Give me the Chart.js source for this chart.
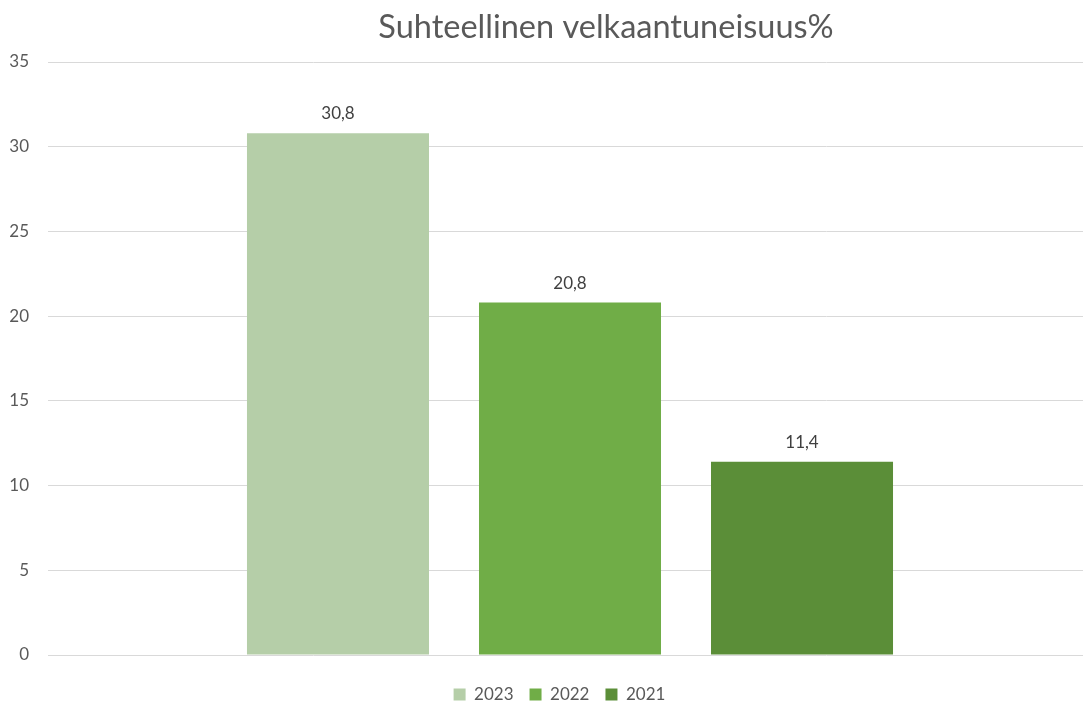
<!DOCTYPE html>
<html>
<head>
<meta charset="utf-8">
<script src="https://cdn.jsdelivr.net/npm/chart.js@4/dist/chart.umd.min.js"></script>
<style>
html,body{margin:0;padding:0;background:#fff;}
#wrap{width:1083px;height:707px;position:relative;}
</style>
</head>
<body>
<div id="wrap"><canvas id="c"></canvas></div>
<script>
const title = "Suhteellinen velkaantuneisuus%";
const categories = [""];
const seriesNames = ["2023", "2022", "2021"];
const values2023 = [30.8];
const values2022 = [20.8];
const values2021 = [11.4];
const yTicks = [0, 5, 10, 15, 20, 25, 30, 35];
const colors = ["#b5cea8", "#70ad47", "#5b8e38"];

const FONT = "Lato, 'Open Sans', sans-serif";
const fmt = v => String(v).replace('.', ',');

const labelPlugin = {
  id: 'valLabels',
  afterDatasetsDraw(chart) {
    const ctx = chart.ctx;
    ctx.save();
    ctx.font = "17px " + FONT;
    ctx.fillStyle = "#404040";
    ctx.textAlign = "center";
    ctx.textBaseline = "bottom";
    chart.data.datasets.forEach((ds, i) => {
      const meta = chart.getDatasetMeta(i);
      meta.data.forEach((el, j) => {
        ctx.fillText(fmt(ds.data[j]), el.x, el.y - 11);
      });
    });
    ctx.restore();
  }
};

const titlePlugin = {
  id: 'offsetTitle',
  afterDraw(chart) {
    const ctx = chart.ctx;
    ctx.save();
    ctx.font = "32.5px " + FONT;
    ctx.fillStyle = "#595959";
    ctx.textAlign = "center";
    ctx.textBaseline = "alphabetic";
    ctx.fillText(title, 606, 38);
    ctx.restore();
  }
};

const legendShift = {
  id: 'legendShift',
  afterLayout(chart) {
    if (chart.legend) { chart.legend.left += 18; chart.legend.right += 18; }
  }
};

new Chart(document.getElementById('c'), {
  type: 'bar',
  data: {
    labels: categories,
    datasets: [
      { label: seriesNames[0], data: values2023, backgroundColor: colors[0] },
      { label: seriesNames[1], data: values2022, backgroundColor: colors[1] },
      { label: seriesNames[2], data: values2021, backgroundColor: colors[2] }
    ]
  },
  options: {
    responsive: true,
    maintainAspectRatio: false,
    animation: false,
    datasets: { bar: { categoryPercentage: 0.6784, barPercentage: 0.7845 } },
    layout: { padding: { left: 0, right: 0, top: 62, bottom: -6 } },
    plugins: {
      title: { display: false },
      legend: {
        position: 'bottom',
        labels: {
          color: "#595959",
          font: { family: FONT, size: 17 },
          boxWidth: 12,
          boxHeight: 12,
          padding: 16
        }
      },
      tooltip: { enabled: false }
    },
    scales: {
      x: {
        ticks: { display: false },
        grid: { display: false, drawTicks: false },
        border: { display: false },
        afterFit(scale) { scale.height = 15; }
      },
      y: {
        min: 0,
        max: 35,
        afterBuildTicks(scale) { scale.ticks = yTicks.map(v => ({ value: v })); },
        afterFit(scale) { scale.width = 57; },
        ticks: {
          color: "#595959",
          font: { family: FONT, size: 17 },
          padding: 19
        },
        grid: { color: "#d9d9d9", lineWidth: 1, drawTicks: true, tickLength: 9 },
        border: { display: false }
      }
    }
  },
  plugins: [labelPlugin, titlePlugin, legendShift]
});
</script>
</body>
</html>
